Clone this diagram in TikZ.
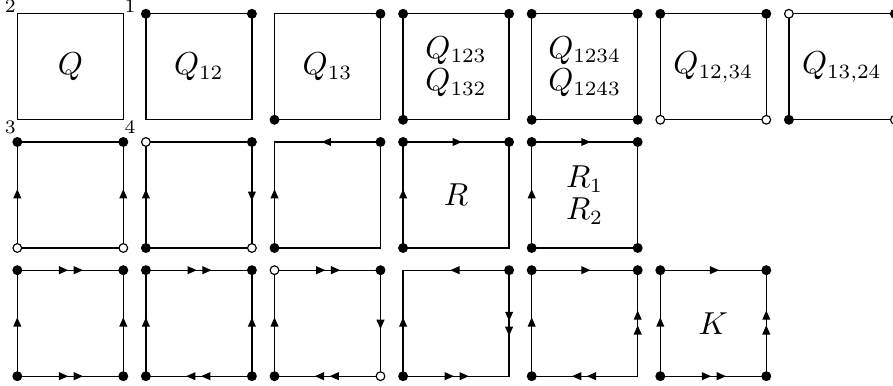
\documentclass[tikz,border=0pt]{standalone}
\usetikzlibrary{decorations.markings,arrows.meta}
\tikzset{
  edge/.style={line width=0.45pt},
  >={Triangle[length=3.2pt,width=2.7pt]},
  ar/.style={postaction={decorate},decoration={markings,mark=at position 0.555 with {\arrow{>}}}},
  arr/.style={postaction={decorate},decoration={markings,mark=at position 0.48 with {\arrow{>}},mark=at position 0.62 with {\arrow{>}}}},
  fdotst/.style={circle,fill=black,draw=black,line width=0.4pt,inner sep=0pt,minimum size=3pt},
  odotst/.style={circle,fill=white,draw=black,line width=0.4pt,inner sep=0pt,minimum size=3pt},
  lab/.style={inner sep=0pt,font=\fontsize{10.5}{12}\selectfont},
  corner/.style={font=\fontsize{6.6}{8}\selectfont,inner sep=0.3pt}
}
\newcommand\sqdef[3]{%
  \pgfmathsetmacro\mysqx{17.3+128.6*#2}%
  \pgfmathsetmacro\mysqy{13.8+128.2*#3}%
  \coordinate (#1tl) at (\mysqx,\mysqy);
  \coordinate (#1tr) at (\mysqx+106,\mysqy);
  \coordinate (#1bl) at (\mysqx,\mysqy+106);
  \coordinate (#1br) at (\mysqx+106,\mysqy+106);
  \coordinate (#1c) at (\mysqx+53,\mysqy+53);
  \draw[edge] (#1tl) -- (#1tr) -- (#1br) -- (#1bl) -- cycle;}
\newcommand\putf[1]{\node[fdotst] (#1d) at (#1) {};}
\newcommand\puto[1]{\node[odotst] (#1d) at (#1) {};}
\begin{document}
\begin{tikzpicture}[x=0.345pt,y=-0.345pt]
\useasboundingbox (0,0) rectangle (893,386);
% ---------- row 1 ----------
\sqdef{A0}{0}{0}
\node[lab] (lA0) at (A0c) {$Q$};
\node[corner,anchor=south east,yshift=-0.2pt] (n2) at (A0tl) {2};
\node[corner,anchor=south west,yshift=-0.2pt] (n1) at (A0tr) {1};
\node[corner,anchor=north east,yshift=0.1pt] (n3) at (A0bl) {3};
\node[corner,anchor=north west,yshift=0.1pt] (n4) at (A0br) {4};

\sqdef{A1}{1}{0}
\node[lab] (lA1) at (A1c) {$Q_{12}$};
\putf{A1tl}\putf{A1tr}

\sqdef{A2}{2}{0}
\node[lab] (lA2) at (A2c) {$Q_{13}$};
\putf{A2tr}\putf{A2bl}

\sqdef{A3}{3}{0}
\node[lab,align=center] (lA3) at (A3c) {$Q_{123}$\\[-0.7pt]$Q_{132}$};
\putf{A3tl}\putf{A3tr}\putf{A3bl}

\sqdef{A4}{4}{0}
\node[lab,align=center] (lA4) at (A4c) {$Q_{1234}$\\[-0.7pt]$Q_{1243}$};
\putf{A4tl}\putf{A4tr}\putf{A4bl}\putf{A4br}

\sqdef{A5}{5}{0}
\node[lab] (lA5) at (A5c) {$Q_{12,34}$};
\putf{A5tl}\putf{A5tr}\puto{A5bl}\puto{A5br}

\sqdef{A6}{6}{0}
\node[lab] (lA6) at (A6c) {$Q_{13,24}$};
\puto{A6tl}\putf{A6tr}\putf{A6bl}\puto{A6br}

% ---------- row 2 ----------
\sqdef{B0}{0}{1}
\draw[edge,ar] (B0bl) -- (B0tl);
\draw[edge,ar] (B0br) -- (B0tr);
\putf{B0tl}\putf{B0tr}\puto{B0bl}\puto{B0br}

\sqdef{B1}{1}{1}
\draw[edge,ar] (B1bl) -- (B1tl);
\draw[edge,ar] (B1tr) -- (B1br);
\puto{B1tl}\putf{B1tr}\putf{B1bl}\puto{B1br}

\sqdef{B2}{2}{1}
\draw[edge,ar] (B2tr) -- (B2tl);
\draw[edge,ar] (B2bl) -- (B2tl);
\putf{B2tr}\putf{B2bl}

\sqdef{B3}{3}{1}
\node[lab] (lB3) at (B3c) {$R$};
\draw[edge,ar] (B3tl) -- (B3tr);
\draw[edge,ar] (B3bl) -- (B3tl);
\putf{B3tl}\putf{B3tr}\putf{B3bl}

\sqdef{B4}{4}{1}
\node[lab,align=center] (lB4) at (B4c) {$R_1$\\[-1pt]$R_2$};
\draw[edge,ar] (B4tl) -- (B4tr);
\draw[edge,ar] (B4bl) -- (B4tl);
\putf{B4tl}\putf{B4tr}\putf{B4bl}\putf{B4br}

% ---------- row 3 ----------
\sqdef{C0}{0}{2}
\draw[edge,arr] (C0tl) -- (C0tr);
\draw[edge,arr] (C0bl) -- (C0br);
\draw[edge,ar] (C0bl) -- (C0tl);
\draw[edge,ar] (C0br) -- (C0tr);
\putf{C0tl}\putf{C0tr}\putf{C0bl}\putf{C0br}

\sqdef{C1}{1}{2}
\draw[edge,arr] (C1tl) -- (C1tr);
\draw[edge,arr] (C1br) -- (C1bl);
\draw[edge,ar] (C1bl) -- (C1tl);
\draw[edge,ar] (C1br) -- (C1tr);
\putf{C1tl}\putf{C1tr}\putf{C1bl}\putf{C1br}

\sqdef{C2}{2}{2}
\draw[edge,arr] (C2tl) -- (C2tr);
\draw[edge,arr] (C2br) -- (C2bl);
\draw[edge,ar] (C2bl) -- (C2tl);
\draw[edge,ar] (C2tr) -- (C2br);
\puto{C2tl}\putf{C2tr}\putf{C2bl}\puto{C2br}

\sqdef{C3}{3}{2}
\draw[edge,ar] (C3tr) -- (C3tl);
\draw[edge,arr] (C3bl) -- (C3br);
\draw[edge,ar] (C3bl) -- (C3tl);
\draw[edge,arr] (C3tr) -- (C3br);
\putf{C3tr}\putf{C3bl}

\sqdef{C4}{4}{2}
\draw[edge,ar] (C4tl) -- (C4tr);
\draw[edge,arr] (C4br) -- (C4bl);
\draw[edge,ar] (C4bl) -- (C4tl);
\draw[edge,arr] (C4br) -- (C4tr);
\putf{C4tl}\putf{C4tr}\putf{C4bl}

\sqdef{C5}{5}{2}
\node[lab] (lC5) at (C5c) {$K$};
\draw[edge,ar] (C5tl) -- (C5tr);
\draw[edge,arr] (C5bl) -- (C5br);
\draw[edge,ar] (C5bl) -- (C5tl);
\draw[edge,arr] (C5br) -- (C5tr);
\putf{C5tl}\putf{C5tr}\putf{C5bl}\putf{C5br}
\end{tikzpicture}
\end{document}
